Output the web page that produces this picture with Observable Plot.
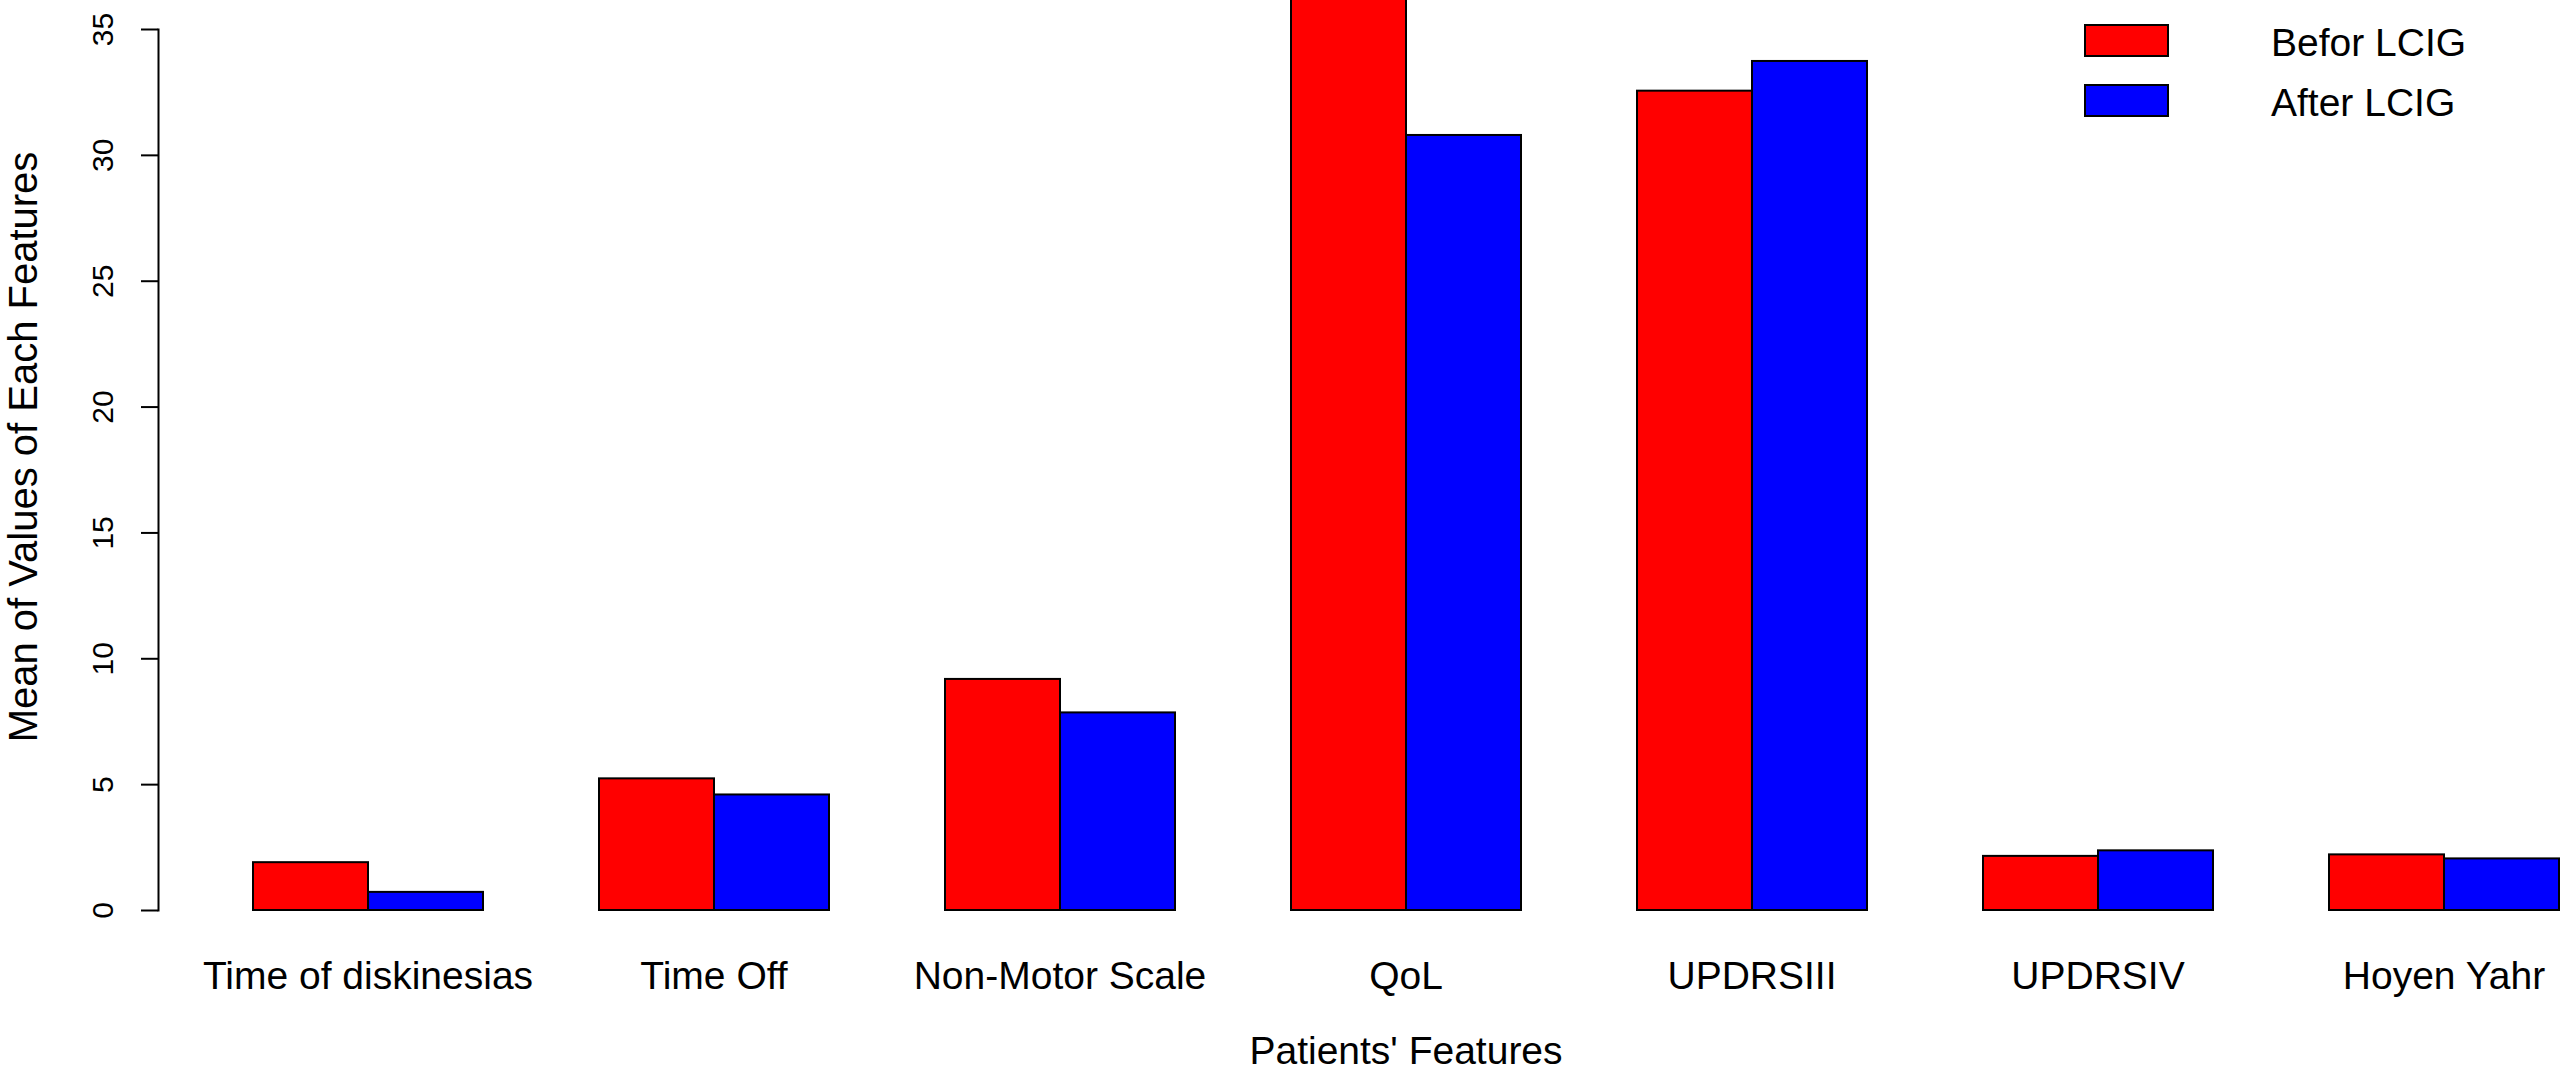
<!DOCTYPE html>
<html><head><meta charset="utf-8">
<script src="https://cdn.jsdelivr.net/npm/d3@7"></script>
<script src="https://cdn.jsdelivr.net/npm/@observablehq/plot@0.6"></script>
<style>
html,body{margin:0;padding:0;background:#fff;}
#chart{position:relative;width:2571px;height:1075px;overflow:hidden;}
#chart svg{display:block;}
</style></head><body><div id="chart"></div>
<script>
const categories = ["Time of diskinesias","Time Off","Non-Motor Scale","QoL","UPDRSIII","UPDRSIV","Hoyen Yahr"];
const series = ["Befor LCIG","After LCIG"];
const beforeValues = [1.9, 5.23, 9.18, 37.6, 32.55, 2.15, 2.21];
const afterValues = [0.72, 4.59, 7.85, 30.79, 33.73, 2.37, 2.05];
const yTicks = [0,5,10,15,20,25,30,35];
const colors = ["#ff0000","#0000ff"];
const xTitle = "Patients' Features";
const yTitle = "Mean of Values of Each Features";

const data = categories.flatMap((c,i)=>[
  {category:c, series:series[0], value: beforeValues[i]},
  {category:c, series:series[1], value: afterValues[i]}
]);

const W=2571, H=1075, ML=250, MR=11, MT=29, MB=165;
const axisX = 156;
const font = "'Liberation Sans', Arial, Helvetica, sans-serif";

const plot = Plot.plot({
  width: W, height: H,
  marginLeft: ML, marginRight: MR, marginTop: MT, marginBottom: MB,
  style: {fontFamily: font, fontSize: "39px", color: "#000", background: "#fff"},
  fx: {domain: categories, paddingInner: 1/3, paddingOuter: 0},
  x: {domain: series, padding: 0, axis: null},
  y: {domain: [0, 35], axis: null},
  color: {domain: series, range: colors},
  marks: [
    Plot.barY(data, {fx: "category", x: "series", y: "value", fill: "series", stroke: "#000", strokeWidth: 2}),
    Plot.frame({anchor: "left", facetAnchor: "left", dx: axisX - ML, stroke: "#000", strokeWidth: 2}),
    Plot.axisY({ticks: yTicks, tickFormat: d => String(d), tickSize: 17, tickPadding: 29, tickRotate: -90,
      fontSize: 30, dx: axisX - ML, label: null, strokeWidth: 2}),
    Plot.axisFx({anchor: "bottom", tickSize: 0, tickPadding: 51, fontSize: 39,
      label: xTitle, labelAnchor: "center", labelOffset: 153, labelArrow: false})
  ]
});

document.getElementById("chart").appendChild(plot);

const svg = d3.select(plot);
svg.append("text")
  .attr("transform", "translate(37,447) rotate(-90)")
  .attr("text-anchor", "middle")
  .attr("font-family", font)
  .attr("font-size", 40)
  .attr("fill", "#000")
  .text(yTitle);

const lg = svg.append("g").attr("font-family", font).attr("font-size", 39)
  .attr("fill", "#000").attr("text-anchor", "start");
series.forEach((s, i) => {
  lg.append("rect").attr("x", 2085).attr("y", 25 + 60 * i).attr("width", 83).attr("height", 31)
    .attr("fill", colors[i]).attr("stroke", "#000").attr("stroke-width", 2);
  lg.append("text").attr("x", 2271).attr("y", 56 + 60 * i).text(s);
});
</script></body></html>
